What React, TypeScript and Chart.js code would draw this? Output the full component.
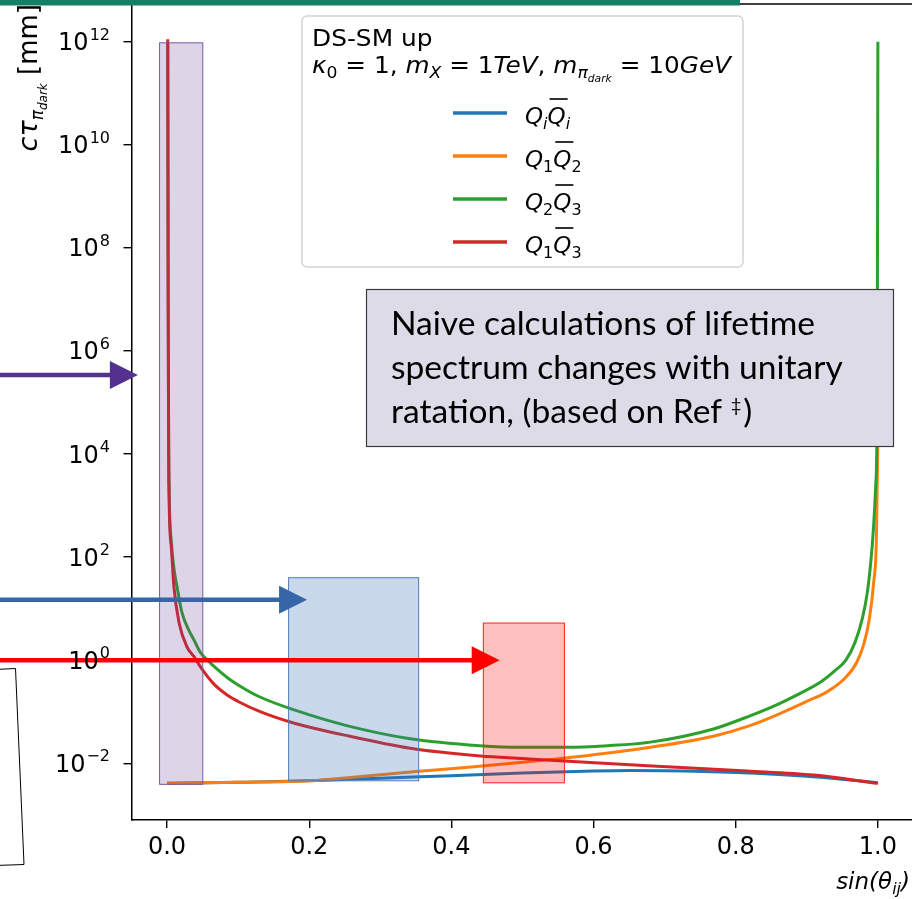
import { useEffect, useRef } from 'react';
import { Chart, registerables } from 'chart.js';

Chart.register(...registerables);

// ---- data ----
const blueX = [0, 0.1, 0.2, 0.3, 0.4, 0.5, 0.6, 0.65, 0.7, 0.8, 0.9, 0.95, 1.0];
const blueY = [0.00407, 0.00427, 0.00457, 0.00513, 0.00575, 0.00646, 0.00708, 0.00724, 0.00716, 0.00661, 0.00562, 0.0049, 0.00417];

const orangeX = [0, 0.1, 0.2, 0.27, 0.35, 0.44, 0.5, 0.56, 0.62, 0.68, 0.77, 0.82, 0.86, 0.9, 0.93, 0.955, 0.97, 0.98, 0.988, 0.994, 0.998, 1.0];
const orangeY = [0.00407, 0.00427, 0.00457, 0.0055, 0.00692, 0.00871, 0.0105, 0.0126, 0.0158, 0.0204, 0.0339, 0.0537, 0.0891, 0.158, 0.251, 0.468, 0.891, 2.0, 6.31, 31.6, 251, 25100];

const greenX = [0.001, 0.002, 0.003, 0.006, 0.01, 0.014, 0.021, 0.03, 0.038, 0.047, 0.057, 0.07, 0.085, 0.1, 0.13, 0.18, 0.25, 0.34, 0.44, 0.5, 0.56, 0.62, 0.68, 0.77, 0.82, 0.86, 0.89, 0.92, 0.94, 0.955, 0.968, 0.978, 0.985, 0.99, 0.994, 0.997, 0.999, 1.0];
const greenY = [1e12, 1e5, 2000, 200, 56.2, 26.9, 8.32, 3.98, 2.45, 1.41, 1.0, 0.676, 0.457, 0.331, 0.195, 0.107, 0.055, 0.0302, 0.0219, 0.0204, 0.0204, 0.0219, 0.0257, 0.0468, 0.0832, 0.141, 0.224, 0.38, 0.631, 1.0, 2.24, 6.31, 20, 79.4, 398, 2510, 1e5, 1e12];

const redX = [0.001, 0.0015, 0.0025, 0.006, 0.0096, 0.017, 0.028, 0.038, 0.047, 0.065, 0.085, 0.1, 0.131, 0.178, 0.248, 0.342, 0.441, 0.5, 0.558, 0.676, 0.816, 0.91, 1.0];
const redY = [1.12e12, 1e7, 3160, 158, 26.9, 5.25, 1.82, 1.17, 0.741, 0.355, 0.209, 0.158, 0.1, 0.0603, 0.0355, 0.0195, 0.0138, 0.0123, 0.011, 0.00891, 0.00708, 0.00589, 0.00407];

const xTicks = [0, 0.2, 0.4, 0.6, 0.8, 1.0];
const yTickValues = [1e-2, 1, 1e2, 1e4, 1e6, 1e8, 1e10, 1e12];
const yTickExponents = ['\u22122', '0', '2', '4', '6', '8', '10', '12'];

// shaded regions (data coords)
const boxX0 = [-0.0105, 0.171, 0.445];
const boxX1 = [0.0503, 0.354, 0.559];
const boxYLow = [0.0039, 0.00457, 0.00417];
const boxYHigh = [9.5e11, 39.8, 5.25];
const boxFill = ['rgba(100,60,150,0.22)', 'rgba(60,110,180,0.27)', 'rgba(255,0,0,0.25)'];
const boxEdge = ['#7b5aa6', '#4f7cc0', '#ff2020'];

// arrows (tip in data coords)
const arrowTipX = [-0.041, 0.197, 0.468];
const arrowY = [3.4e5, 14.8, 1.0];
const arrowColor = ['#55318f', '#3766a8', '#ff0000'];

const seriesColors = ['#1f77b4', '#ff7f0e', '#2ca02c', '#d62728'];

const noteLines = ['Naive calculations of lifetime', 'spectrum changes with unitary', 'ratation, (based on Ref '];

type Run = { t: string; size: number; it?: boolean; dy?: number; over?: boolean };
const FAM = '"DejaVu Sans"';

function runsWidth(ctx: CanvasRenderingContext2D, runs: Run[]) {
  let w = 0;
  for (const r of runs) {
    ctx.font = `${r.it ? 'italic ' : ''}${r.size}px ${FAM}`;
    w += ctx.measureText(r.t).width;
  }
  return w;
}
function drawRuns(ctx: CanvasRenderingContext2D, runs: Run[], x: number, y: number, sx = 1) {
  ctx.save();
  ctx.translate(x, y);
  ctx.scale(sx, 1);
  let cx = 0;
  ctx.textAlign = 'left';
  ctx.textBaseline = 'alphabetic';
  for (const r of runs) {
    ctx.font = `${r.it ? 'italic ' : ''}${r.size}px ${FAM}`;
    ctx.fillText(r.t, cx, r.dy || 0);
    const w = ctx.measureText(r.t).width;
    if (r.over) ctx.fillRect(cx + 2, -r.size * 1.1, w, 1.6);
    cx += w;
  }
  ctx.restore();
  return cx * sx;
}

const legendRuns: Run[][] = [
  [{ t: 'Q', size: 23, it: true }, { t: 'i', size: 16, it: true, dy: 5 }, { t: 'Q', size: 23, it: true, over: true }, { t: 'i', size: 16, it: true, dy: 5 }],
  [{ t: 'Q', size: 23, it: true }, { t: '1', size: 16, dy: 5 }, { t: 'Q', size: 23, it: true, over: true }, { t: '2', size: 16, dy: 5 }],
  [{ t: 'Q', size: 23, it: true }, { t: '2', size: 16, dy: 5 }, { t: 'Q', size: 23, it: true, over: true }, { t: '3', size: 16, dy: 5 }],
  [{ t: 'Q', size: 23, it: true }, { t: '1', size: 16, dy: 5 }, { t: 'Q', size: 23, it: true, over: true }, { t: '3', size: 16, dy: 5 }],
];

const decor = {
  id: 'decor',
  afterDatasetsDraw(chart: any) {
    const { ctx, scales } = chart;
    const xs = scales.x, ys = scales.y;
    ctx.save();
    for (let i = 0; i < boxX0.length; i++) {
      const l = xs.getPixelForValue(boxX0[i]);
      const r = xs.getPixelForValue(boxX1[i]);
      const t = ys.getPixelForValue(boxYHigh[i]);
      const b = ys.getPixelForValue(boxYLow[i]);
      ctx.fillStyle = boxFill[i];
      ctx.fillRect(l, t, r - l, b - t);
      ctx.strokeStyle = boxEdge[i];
      ctx.lineWidth = 1;
      ctx.strokeRect(l, t, r - l, b - t);
    }
    for (let i = 0; i < arrowTipX.length; i++) {
      const tx = xs.getPixelForValue(arrowTipX[i]);
      const ty = ys.getPixelForValue(arrowY[i]);
      ctx.strokeStyle = arrowColor[i];
      ctx.fillStyle = arrowColor[i];
      ctx.lineWidth = 4.5;
      ctx.beginPath();
      ctx.moveTo(0, ty);
      ctx.lineTo(tx - 26, ty);
      ctx.stroke();
      ctx.beginPath();
      ctx.moveTo(tx, ty);
      ctx.lineTo(tx - 28, ty - 14);
      ctx.lineTo(tx - 28, ty + 14);
      ctx.closePath();
      ctx.fill();
    }
    ctx.restore();
  },
  afterDraw(chart: any) {
    const { ctx, chartArea, scales } = chart;
    const ys = scales.y;
    ctx.save();
    ctx.fillStyle = '#000';
    // y tick labels 10^n
    for (let i = 0; i < yTickValues.length; i++) {
      const py = ys.getPixelForValue(yTickValues[i]);
      const right = 110;
      ctx.textBaseline = 'alphabetic';
      ctx.textAlign = 'right';
      ctx.font = `16px ${FAM}`;
      const ew = ctx.measureText(yTickExponents[i]).width;
      ctx.fillText(yTickExponents[i], right, py - 2);
      ctx.font = `24px ${FAM}`;
      ctx.fillText('10', right - ew - 1, py + 8.5);
    }
    // y axis title (rotated, aligned to top)
    const yTitle: Run[] = [
      { t: 'cτ', size: 27, it: true },
      { t: 'π', size: 17, it: true, dy: 6 },
      { t: 'dark', size: 12, it: true, dy: 10 },
      { t: ' [mm]', size: 26 },
    ];
    const wT = runsWidth(ctx, yTitle);
    ctx.save();
    ctx.translate(37, 4 + wT);
    ctx.rotate(-Math.PI / 2);
    drawRuns(ctx, yTitle, 0, 0);
    ctx.restore();
    // x axis title (aligned right)
    const xTitle: Run[] = [
      { t: 'sin(θ', size: 23, it: true },
      { t: 'ij', size: 16, it: true, dy: 5 },
      { t: ')', size: 23, it: true },
    ];
    const wX = runsWidth(ctx, xTitle);
    drawRuns(ctx, xTitle, 910 - wX, 889);

    // top spine
    ctx.strokeStyle = '#000';
    ctx.lineWidth = 1.5;
    ctx.beginPath();
    ctx.moveTo(chartArea.left, chartArea.top);
    ctx.lineTo(chartArea.right, chartArea.top);
    ctx.stroke();

    // legend box
    const lx = 302, ly = 16, lw = 441, lh = 251, rad = 5;
    ctx.beginPath();
    ctx.moveTo(lx + rad, ly);
    ctx.arcTo(lx + lw, ly, lx + lw, ly + lh, rad);
    ctx.arcTo(lx + lw, ly + lh, lx, ly + lh, rad);
    ctx.arcTo(lx, ly + lh, lx, ly, rad);
    ctx.arcTo(lx, ly, lx + lw, ly, rad);
    ctx.closePath();
    ctx.fillStyle = 'rgba(255,255,255,0.85)';
    ctx.fill();
    ctx.strokeStyle = '#d4d4d4';
    ctx.lineWidth = 1.5;
    ctx.stroke();
    ctx.fillStyle = '#000';
    drawRuns(ctx, [{ t: 'DS-SM up', size: 23 }], 312, 45.5, 1.08);
    drawRuns(ctx, [
      { t: 'κ', size: 23, it: true },
      { t: '0', size: 16, dy: 5 },
      { t: ' = 1, ', size: 23 },
      { t: 'm', size: 23, it: true },
      { t: 'X', size: 16, it: true, dy: 5 },
      { t: ' = 1', size: 23 },
      { t: 'TeV', size: 23, it: true },
      { t: ', ', size: 23 },
      { t: 'm', size: 23, it: true },
      { t: 'π', size: 16, it: true, dy: 5 },
      { t: 'dark', size: 10, it: true, dy: 9 },
      { t: ' = 10', size: 23 },
      { t: 'GeV', size: 23, it: true },
    ], 312, 73, 1.075);
    const entryY = [113, 156, 199, 242];
    for (let i = 0; i < 4; i++) {
      ctx.strokeStyle = seriesColors[i];
      ctx.lineWidth = 3.5;
      ctx.beginPath();
      ctx.moveTo(453, entryY[i]);
      ctx.lineTo(507, entryY[i]);
      ctx.stroke();
      ctx.fillStyle = '#000';
      drawRuns(ctx, legendRuns[i], 525, entryY[i] + 10.5);
    }

    // annotation box
    ctx.fillStyle = '#dddbe8';
    ctx.fillRect(366, 289, 528, 158);
    ctx.strokeStyle = '#3c3c3c';
    ctx.lineWidth = 1.2;
    ctx.strokeRect(366.5, 289.5, 527, 157);
    ctx.font = `30px Lato`;
    const w2 = ctx.measureText(noteLines[1]).width;
    const fs = 30 * 452 / w2;
    ctx.font = `${fs}px Lato`;
    ctx.fillStyle = '#000';
    ctx.textAlign = 'left';
    ctx.textBaseline = 'alphabetic';
    const base = [335, 379, 423];
    for (let i = 0; i < 3; i++) ctx.fillText(noteLines[i], 391, base[i]);
    const w3 = ctx.measureText(noteLines[2]).width;
    ctx.font = `${fs * 0.55}px Lato`;
    ctx.fillText('‡', 391 + w3, base[2] - 11);
    const wd = ctx.measureText('‡').width;
    ctx.font = `${fs}px Lato`;
    ctx.fillText(')', 391 + w3 + wd + 2, base[2]);

    // slide decorations: header bar and slanted frame
    ctx.fillStyle = '#157f63';
    ctx.fillRect(0, 0, 740, 5.5);
    ctx.strokeStyle = '#000';
    ctx.lineWidth = 1;
    ctx.beginPath();
    ctx.moveTo(-5, 669.5);
    ctx.lineTo(15.5, 668.5);
    ctx.lineTo(24, 864.5);
    ctx.lineTo(-5, 865.5);
    ctx.stroke();
    ctx.restore();
  },
};

function pts(xs: number[], ys: number[]) {
  return xs.map((x, i) => ({ x, y: ys[i] }));
}

export default function App() {
  const ref = useRef<HTMLCanvasElement | null>(null);
  useEffect(() => {
    if (!ref.current) return;
    const mk = (label: string, xs: number[], ys: number[], color: string, order: number) => ({
      label,
      data: pts(xs, ys),
      borderColor: color,
      backgroundColor: color,
      borderWidth: 3,
      pointRadius: 0,
      fill: false,
      cubicInterpolationMode: 'monotone' as const,
      order,
    });
    const chart = new Chart(ref.current, {
      type: 'line',
      data: {
        datasets: [
          mk('QiQi', blueX, blueY, seriesColors[0], 4),
          mk('Q1Q2', orangeX, orangeY, seriesColors[1], 3),
          mk('Q2Q3', greenX, greenY, seriesColors[2], 2),
          mk('Q1Q3', redX, redY, seriesColors[3], 1),
        ],
      },
      options: {
        animation: false,
        responsive: false,
        devicePixelRatio: 1,
        layout: { padding: { top: 4, left: 0, right: 0, bottom: 0 }, autoPadding: false },
        plugins: { legend: { display: false }, tooltip: { enabled: false } },
        scales: {
          x: {
            type: 'linear',
            min: -0.05,
            max: 1.048,
            afterBuildTicks: (s: any) => { s.ticks = xTicks.map((v) => ({ value: v })); },
            afterFit: (s: any) => { s.height = 79; },
            ticks: {
              callback: (v: any) => Number(v).toFixed(1),
              font: { family: 'DejaVu Sans', size: 24 },
              color: '#000',
              padding: 5,
              maxRotation: 0,
              autoSkip: false,
            },
            grid: { display: true, drawOnChartArea: false, drawTicks: true, tickLength: 8, color: '#000', lineWidth: 1.4 },
            border: { display: true, color: '#000', width: 1.5 },
          },
          y: {
            type: 'logarithmic',
            min: 7.925e-4,
            max: 5.38e12,
            afterBuildTicks: (s: any) => { s.ticks = yTickValues.map((v) => ({ value: v })); },
            afterFit: (s: any) => { s.width = 131.5; },
            ticks: { display: false },
            grid: { display: true, drawOnChartArea: false, drawTicks: true, tickLength: 8, color: '#000', lineWidth: 1.4 },
            border: { display: true, color: '#000', width: 1.5 },
          },
        },
      } as any,
      plugins: [decor],
    });
    return () => chart.destroy();
  }, []);
  return (
    <div style={{ position: 'absolute', left: 0, top: 0, width: 912, height: 899, background: '#fff' }}>
      <canvas ref={ref} width={912} height={899} style={{ display: 'block' }} />
    </div>
  );
}
